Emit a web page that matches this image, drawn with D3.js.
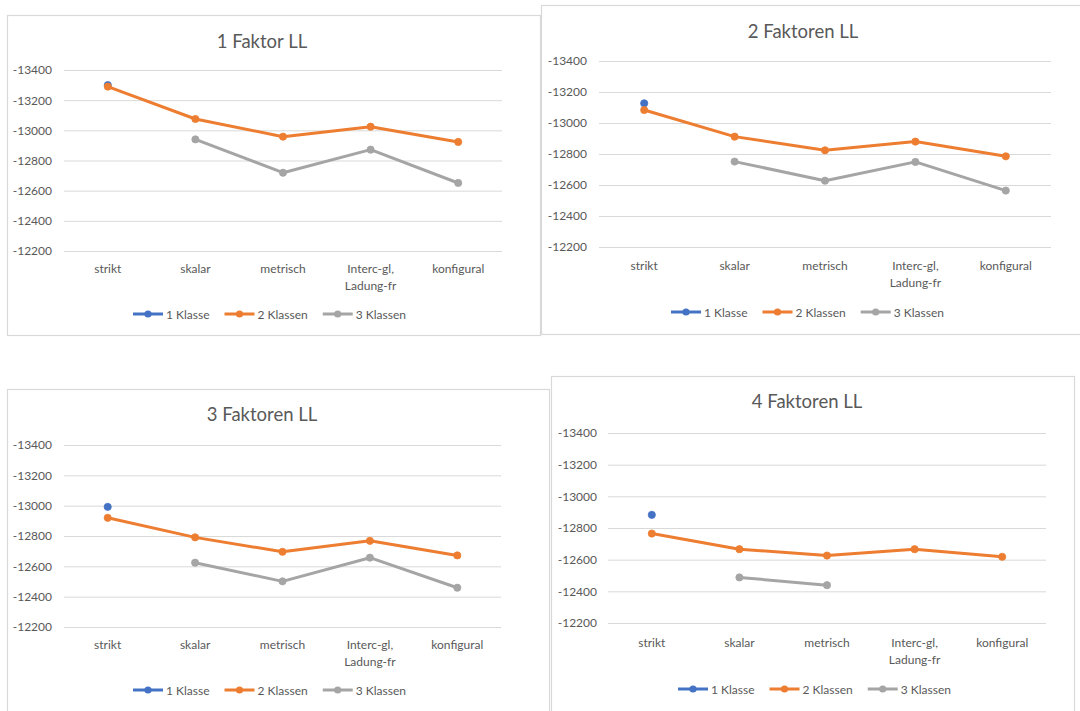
<!DOCTYPE html>
<html>
<head>
<meta charset="utf-8">
<script src="https://cdn.jsdelivr.net/npm/d3@7"></script>
<style>
  html, body { margin: 0; padding: 0; background: #fff; }
  svg { display: block; font-family: Lato, "Open Sans", sans-serif; }
</style>
</head>
<body>
<svg id="chart" width="1080" height="711"></svg>
<script>
// Categories (measurement invariance levels) and value axis ticks
const categories = ["strikt", "skalar", "metrisch", "Interc-gl, Ladung-fr", "konfigural"];
const yTicks = [-13400, -13200, -13000, -12800, -12600, -12400, -12200];
const seriesNames = ["1 Klasse", "2 Klassen", "3 Klassen"];
const seriesColors = ["#4472C4", "#ED7D31", "#A5A5A5"];
const titles = ["1 Faktor LL", "2 Faktoren LL", "3 Faktoren LL", "4 Faktoren LL"];

// Log-likelihood values per factor model and number of classes (null = not estimated)
const f1Klasse1 = [-13300, null, null, null, null];
const f1Klasse2 = [-13290, -13075, -12958, -13024, -12923];
const f1Klasse3 = [null, -12940, -12719, -12872, -12651];

const f2Klasse1 = [-13127, null, null, null, null];
const f2Klasse2 = [-13084, -12912, -12824, -12880, -12785];
const f2Klasse3 = [null, -12751, -12628, -12749, -12564];

const f3Klasse1 = [-12992, null, null, null, null];
const f3Klasse2 = [-12920, -12791, -12696, -12768, -12672];
const f3Klasse3 = [null, -12624, -12501, -12657, -12459];

const f4Klasse1 = [-12883, null, null, null, null];
const f4Klasse2 = [-12765, -12666, -12626, -12666, -12618];
const f4Klasse3 = [null, -12488, -12439, null, null];

const panelSeries = [
  [f1Klasse1, f1Klasse2, f1Klasse3],
  [f2Klasse1, f2Klasse2, f2Klasse3],
  [f3Klasse1, f3Klasse2, f3Klasse3],
  [f4Klasse1, f4Klasse2, f4Klasse3]
];

// Placement of the four chart boxes on the page
const layouts = [
  { box: [7, 15, 540, 335],  plot: [64, 70, 502, 251],   title: [262, 41],  tickX: 52,  catY: 268, legendY: 314, legendX: 133 },
  { box: [541, 5, 1085, 334], plot: [599, 61, 1051, 247], title: [803, 31],  tickX: 587, catY: 265, legendY: 312, legendX: 671 },
  { box: [7, 389, 549, 720], plot: [64, 445, 501, 627],  title: [262, 414], tickX: 52,  catY: 644, legendY: 690, legendX: 133 },
  { box: [551, 376, 1074, 720], plot: [608, 433, 1046, 623], title: [807, 401], tickX: 597, catY: 642, legendY: 689, legendX: 678 }
];

const textColor = "#595959";
const gridColor = "#D9D9D9";
const svg = d3.select("#chart");

layouts.forEach((L, p) => {
  const g = svg.append("g");
  const [bx0, by0, bx1, by1] = L.box;
  const [px0, py0, px1, py1] = L.plot;

  // chart frame
  g.append("rect")
    .attr("x", bx0 + 0.5).attr("y", by0 + 0.5)
    .attr("width", bx1 - bx0).attr("height", by1 - by0)
    .attr("fill", "#fff").attr("stroke", gridColor).attr("stroke-width", 1.2);

  // title
  g.append("text")
    .attr("x", L.title[0]).attr("y", L.title[1])
    .attr("text-anchor", "middle").attr("dominant-baseline", "central")
    .attr("font-size", 18.5).attr("fill", textColor)
    .text(titles[p]);

  const x = d3.scaleBand().domain(categories).range([px0, px1]);
  const y = d3.scaleLinear().domain([-13400, -12200]).range([py0, py1]);

  // horizontal gridlines + value labels
  const yAxis = d3.axisLeft(y).tickValues(yTicks).tickSize(-(px1 - px0)).tickPadding(px0 - L.tickX)
    .tickFormat(d => String(d));
  const ya = g.append("g").attr("transform", `translate(${px0},0)`).call(yAxis);
  ya.select(".domain").remove();
  ya.selectAll(".tick line").attr("stroke", gridColor).attr("stroke-width", 1);
  ya.selectAll(".tick text").attr("fill", textColor).attr("font-size", 12)
    .attr("font-family", "Lato, sans-serif");

  // category labels (wrapped at the comma)
  const xAxis = d3.axisBottom(x).tickSize(0).tickPadding(0);
  const xa = g.append("g").attr("transform", `translate(0,${L.catY})`).call(xAxis);
  xa.select(".domain").remove();
  xa.selectAll(".tick text").each(function (d) {
    const t = d3.select(this);
    const parts = d.split(", ");
    t.text(null).attr("y", 0).attr("dy", null)
      .attr("fill", textColor).attr("font-size", 12).attr("font-family", "Lato, sans-serif")
      .attr("dominant-baseline", "central");
    parts.forEach((s, i) => {
      t.append("tspan").attr("x", 0).attr("y", i * 16.5)
        .text(i < parts.length - 1 ? s + "," : s);
    });
  });

  // series lines and markers
  const cx = c => x(c) + x.bandwidth() / 2;
  const line = d3.line()
    .defined(d => d.v !== null)
    .x(d => cx(d.c)).y(d => y(d.v));

  panelSeries[p].forEach((vals, s) => {
    const pts = vals.map((v, i) => ({ c: categories[i], v }));
    g.append("path").datum(pts)
      .attr("d", line).attr("fill", "none")
      .attr("stroke", seriesColors[s]).attr("stroke-width", 3)
      .attr("stroke-linejoin", "round").attr("stroke-linecap", "round");
    g.selectAll(null).data(pts.filter(d => d.v !== null)).enter()
      .append("circle")
      .attr("cx", d => cx(d.c)).attr("cy", d => y(d.v)).attr("r", 3.6)
      .attr("fill", seriesColors[s]).attr("stroke", seriesColors[s]).attr("stroke-width", 0.8);
  });

  // legend
  let lx = L.legendX;
  seriesNames.forEach((name, s) => {
    const lg = g.append("g");
    lg.append("line").attr("x1", lx).attr("x2", lx + 30)
      .attr("y1", L.legendY).attr("y2", L.legendY)
      .attr("stroke", seriesColors[s]).attr("stroke-width", 3);
    lg.append("circle").attr("cx", lx + 15).attr("cy", L.legendY).attr("r", 3.6)
      .attr("fill", seriesColors[s]);
    const t = lg.append("text").attr("x", lx + 33).attr("y", L.legendY)
      .attr("dominant-baseline", "central").attr("font-size", 12).attr("fill", textColor)
      .text(name);
    lx += 33 + t.node().getComputedTextLength() + 15;
  });
});
</script>
</body>
</html>
